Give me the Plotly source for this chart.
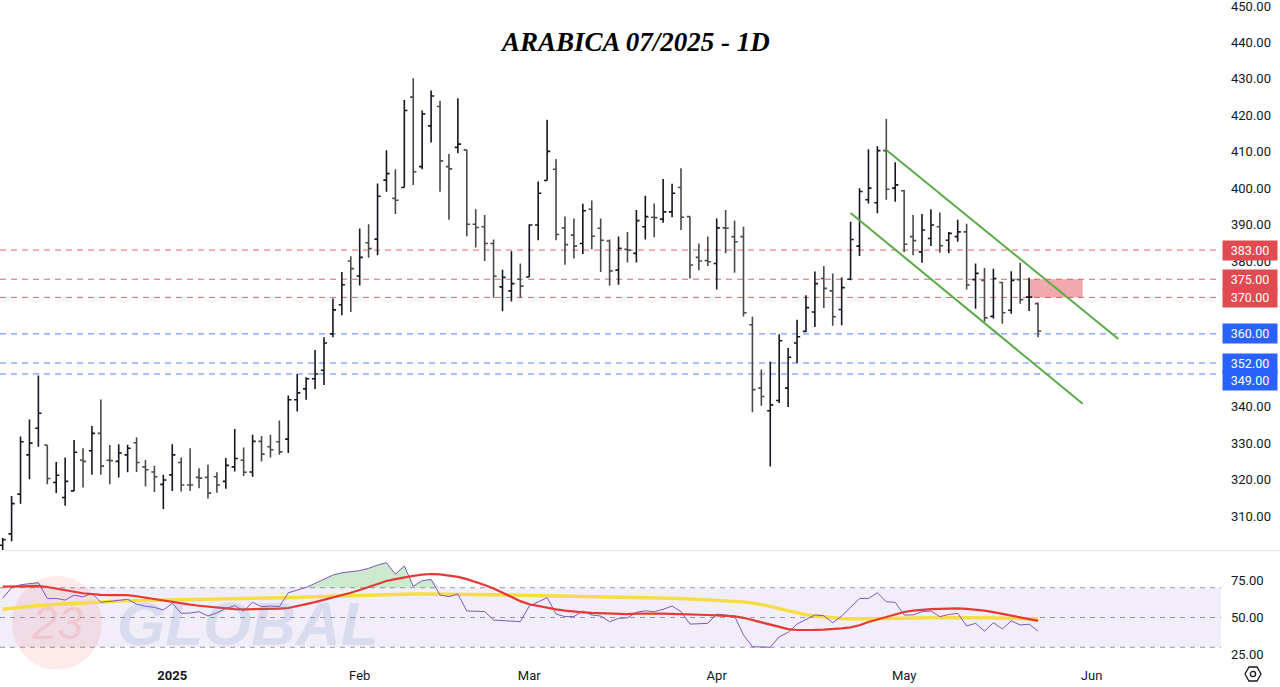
import plotly.graph_objects as go

# ---------------- data ----------------
bar_index = list(range(117))

opens = [302.0, 305.1, 316.0, 326.8, 334.1, 329.5, 319.2, 315.1, 316.9, 325.4,
         327.9, 332.7, 325.3, 325.0, 326.8, 330.1, 323.5, 322.1, 318.7, 321.3,
         324.7, 318.5, 320.6, 320.6, 320.8, 319.5, 323.5, 325.3, 322.1, 330.5,
         329.0, 330.4, 331.1, 341.9, 344.9, 347.7, 350.0, 360.0, 368.0, 380.0,
         375.9, 385.0, 386.0, 402.2, 397.2, 400.2, 425.0, 405.9, 417.1, 422.4,
         405.9, 411.2, 410.5, 390.1, 389.4, 384.8, 372.9, 371.8, 375.0, 375.6,
         389.9, 402.1, 405.2, 389.1, 387.1, 384.8, 394.2, 389.0, 385.5, 377.5,
         383.2, 382.1, 389.4, 392.0, 391.5, 393.5, 400.2, 392.2, 381.0, 380.1,
         379.3, 389.1, 386.7, 386.7, 362.5, 345.1, 338.9, 341.7, 345.1, 357.5,
         360.7, 366.0, 375.2, 371.8, 366.7, 375.0, 384.1, 396.8, 396.0, 410.3,
         400.0, 399.3, 386.7, 382.5, 386.2, 389.4, 385.7, 386.7, 388.0, 374.9,
         374.7, 364.8, 374.1, 366.5, 374.9, 370.1, 368.3]
highs = [304.0, 315.5, 331.8, 336.5, 348.6, 329.5, 324.8, 326.1, 330.9, 328.6,
         334.7, 342.0, 329.5, 329.7, 329.6, 331.6, 325.4, 323.8, 321.3, 329.7,
         326.1, 328.6, 323.1, 324.1, 322.0, 325.9, 333.9, 328.8, 332.3, 332.0,
         332.3, 336.2, 343.1, 349.0, 348.1, 355.6, 359.1, 369.7, 377.0, 381.3,
         388.9, 390.1, 401.3, 410.4, 405.2, 424.2, 430.2, 421.3, 426.8, 424.0,
         409.4, 424.7, 410.5, 394.2, 392.6, 385.9, 377.6, 382.7, 379.3, 390.1,
         401.8, 418.8, 408.0, 392.2, 391.7, 395.7, 396.6, 391.7, 385.9, 386.7,
         388.0, 394.0, 397.9, 395.8, 402.5, 401.2, 405.5, 392.2, 384.8, 386.7,
         391.7, 394.0, 391.1, 389.4, 364.7, 350.2, 352.4, 359.9, 356.1, 363.9,
         370.6, 377.1, 378.6, 376.6, 375.5, 390.8, 400.0, 410.7, 411.5, 419.0,
         407.1, 399.5, 392.6, 392.9, 394.2, 393.3, 388.0, 391.3, 390.2, 379.3,
         378.1, 377.9, 374.3, 377.2, 379.5, 375.4, 368.6]
lows = [300.0, 303.1, 313.4, 320.1, 329.0, 318.7, 316.3, 312.8, 316.9, 317.8,
        321.3, 321.3, 318.7, 320.6, 322.0, 322.1, 318.1, 316.6, 311.9, 316.9,
        316.7, 316.9, 317.6, 314.8, 316.4, 317.5, 322.2, 321.0, 320.8, 325.0,
        326.1, 326.8, 327.3, 338.7, 341.9, 344.9, 346.0, 359.1, 365.1, 366.0,
        373.3, 380.9, 381.6, 399.0, 392.9, 400.2, 400.9, 405.2, 412.5, 399.0,
        391.3, 409.6, 386.8, 383.7, 380.0, 369.9, 366.2, 368.9, 369.9, 375.6,
        385.7, 402.1, 385.7, 379.0, 380.7, 381.9, 383.2, 377.0, 373.2, 373.5,
        379.6, 379.6, 385.9, 386.5, 390.5, 392.0, 388.5, 375.2, 377.5, 378.6,
        372.2, 382.1, 376.8, 364.8, 338.5, 340.3, 323.6, 341.0, 339.9, 352.0,
        360.5, 361.9, 367.1, 362.2, 362.4, 374.7, 381.4, 395.8, 393.1, 396.8,
        396.3, 382.5, 381.6, 379.5, 384.1, 382.3, 382.1, 385.3, 372.2, 366.9,
        363.3, 364.2, 362.8, 365.5, 368.3, 366.3, 359.1]
closes = [303.5, 313.4, 330.4, 330.0, 338.2, 320.3, 321.2, 319.5, 327.5, 325.0,
          332.7, 323.7, 325.2, 327.3, 328.6, 324.7, 322.7, 320.8, 319.9, 326.8,
          318.5, 318.5, 320.4, 316.3, 318.5, 323.9, 325.8, 322.0, 330.5, 327.0,
          328.2, 327.6, 341.9, 343.8, 347.7, 349.0, 357.5, 366.6, 373.5, 377.9,
          381.0, 383.4, 397.8, 404.0, 396.7, 421.3, 404.5, 420.4, 425.3, 407.5,
          405.3, 412.1, 390.1, 389.2, 384.8, 375.8, 375.5, 373.8, 373.1, 389.9,
          398.6, 410.1, 387.3, 384.5, 384.1, 393.8, 386.8, 385.7, 377.3, 383.5,
          383.0, 391.1, 392.2, 391.9, 393.5, 398.6, 392.0, 378.9, 380.0, 379.8,
          389.1, 389.0, 385.3, 365.8, 344.7, 342.8, 340.5, 358.1, 353.6, 359.2,
          367.2, 373.8, 372.5, 364.7, 372.7, 385.9, 399.1, 400.0, 410.3, 399.7,
          400.9, 384.6, 385.6, 388.5, 389.9, 384.2, 387.6, 388.0, 373.4, 376.6,
          364.4, 375.2, 365.8, 374.7, 369.4, 370.1, 360.8]

rsi = [63, 70, 72, 72.5, 73.4, 62.8, 62.8, 61.7, 65, 63.9,
       66.2, 60.2, 60.6, 61.5, 62.2, 59, 57.5, 56.8, 55, 59.5,
       52.8, 53, 53.9, 51, 53.2, 56, 58, 54.4, 60.2, 57.3,
       57.7, 57.3, 66.6, 68.4, 70.2, 72.9, 75.5, 78.5, 80, 80.7,
       81.5, 83, 85.2, 86.8, 79, 84.6, 71, 74.7, 75.6, 65.1,
       64, 65.8, 54.4, 54.2, 54, 48.3, 48, 47.8, 47.2, 57.7,
       60.5, 63.3, 52.3, 50.6, 50.6, 54.4, 51.7, 51, 47.2, 49.4,
       49.8, 53.5, 54.5, 53.9, 55.5, 57.7, 53.9, 45.6, 45.8, 46.1,
       52.3, 51.5, 51, 38.3, 30.4, 30.2, 30, 37, 40, 45.6,
       48.5, 51.7, 51.2, 46.5, 51, 57, 62.8, 62.8, 66.6, 60.6,
       60.2, 51.7, 51.7, 53.9, 54.4, 50.6, 52, 52.8, 44.3, 46.1,
       40.9, 46.5, 42.3, 47.7, 45, 45.5, 40.9]

rsi_ma_yellow = [55.5, 56.2, 56.9, 57.5, 58.0, 58.4, 58.8, 59.2, 59.6, 60.0,
                 60.3, 60.6, 60.9, 61.1, 61.3, 61.4, 61.5, 61.6, 61.7, 61.8,
                 61.9, 62.0, 62.0, 62.1, 62.2, 62.2, 62.3, 62.4, 62.5, 62.7,
                 62.9, 63.1, 63.3, 63.5, 63.7, 63.9, 64.1, 64.3, 64.6, 64.8,
                 65.0, 65.1, 65.3, 65.4, 65.5, 65.7, 65.8, 65.8, 65.8, 65.8,
                 65.7, 65.7, 65.6, 65.5, 65.4, 65.3, 65.2, 65.1, 65.0, 64.9,
                 64.8, 64.7, 64.6, 64.5, 64.4, 64.2, 64.1, 64.0, 63.8, 63.7,
                 63.5, 63.3, 63.2, 63.1, 63.0, 62.9, 62.8, 62.5, 62.2, 61.9,
                 61.6, 61.3, 60.9, 60.5, 59.8, 58.9, 57.5, 56.0, 54.5, 53.0,
                 51.9, 51.0, 50.3, 49.8, 49.3, 49.1, 49.0, 49.0, 49.1, 49.3,
                 49.5, 49.6, 49.7, 49.8, 49.9, 49.9, 50.0, 50.0, 49.9, 49.9,
                 49.8, 49.7, 49.6, 49.5, 49.3, 49.2, 49.0]

rsi_ma_red = [70.7, 70.9, 71.0, 71.1, 71.1, 70.5, 69.3, 68.3, 67.3, 66.3,
              65.6, 65.2, 65.1, 65.1, 65.0, 64.3, 63.3, 62.2, 61.3, 60.4,
              59.5, 58.6, 57.9, 57.2, 56.6, 56.0, 55.6, 55.5, 55.5, 55.6,
              55.7, 55.9, 56.4, 57.5, 59.0, 60.3, 61.8, 63.4, 65.0, 66.6,
              68.5, 70.4, 72.5, 74.5, 75.8, 77.0, 78.0, 78.8, 79.2, 79.0,
              78.3, 77.3, 75.8, 74.0, 71.8, 69.5, 66.8, 63.8, 61.0, 58.9,
              57.6, 56.6, 55.5, 54.6, 53.9, 53.5, 53.1, 52.8, 52.5, 52.3,
              52.3, 52.6, 52.8, 52.7, 52.6, 52.5, 52.4, 52.2, 52.0, 51.7,
              51.4, 51.1, 50.7, 49.8, 48.3, 46.5, 44.8, 43.3, 42.2, 41.6,
              41.5, 41.7, 41.9, 42.2, 42.7, 43.4, 44.8, 47.0, 48.6, 50.5,
              52.3, 53.7, 54.6, 55.3, 55.6, 55.8, 56.0, 56.1, 55.8, 55.3,
              54.6, 53.6, 52.4, 51.2, 49.9, 48.8, 47.7]

month_ticks = [19, 40, 59, 80, 101, 122]
month_labels = ["<b>2025</b>", "Feb", "Mar", "Apr", "May", "Jun"]

price_ticks = [310, 320, 330, 340, 380, 390, 400, 410, 420, 430, 440, 450]
rsi_ticks = [25, 50, 75]

resistance_levels = [383, 375, 370]
support_levels = [360, 352, 349]
label_shift = {349: -7}

zone_x = [114.9, 121.0]
zone_y = [370, 375]

channel_x_upper = [99.0, 125.0]
channel_upper = [410.5, 358.6]
channel_x_lower = [95.0, 121.0]
channel_lower = [393.2, 340.8]

rsi_bands = [70, 50, 30]

# ---------------- figure ----------------
X_RANGE = [-0.30, 136.5]
INK = "#131722"
RED = "#e04a50"
BLUE = "#2962ff"

fig = go.Figure()

fig.add_trace(go.Ohlc(
    x=bar_index, open=opens, high=highs, low=lows, close=closes,
    increasing=dict(line=dict(color="#131722", width=1.6)),
    decreasing=dict(line=dict(color="#4a4a4a", width=1.6)),
    tickwidth=0.35, xaxis="x", yaxis="y", hoverinfo="skip", showlegend=False))

# channel lines
fig.add_trace(go.Scatter(x=channel_x_upper, y=channel_upper, mode="lines",
                         line=dict(color="#5aab47", width=2), xaxis="x", yaxis="y",
                         showlegend=False, hoverinfo="skip"))
fig.add_trace(go.Scatter(x=channel_x_lower, y=channel_lower, mode="lines",
                         line=dict(color="#5aab47", width=2), xaxis="x", yaxis="y",
                         showlegend=False, hoverinfo="skip"))

# RSI overbought fill
fig.add_trace(go.Scatter(x=bar_index, y=[rsi_bands[0]] * len(bar_index), mode="lines",
                         line=dict(width=0, color="rgba(0,0,0,0)"), xaxis="x2", yaxis="y2",
                         showlegend=False, hoverinfo="skip"))
fig.add_trace(go.Scatter(x=bar_index, y=[max(v, rsi_bands[0]) for v in rsi], mode="lines",
                         line=dict(width=0, color="rgba(0,0,0,0)"), fill="tonexty",
                         fillcolor="rgba(76,175,80,0.28)", xaxis="x2", yaxis="y2",
                         showlegend=False, hoverinfo="skip"))

fig.add_trace(go.Scatter(x=bar_index, y=rsi_ma_yellow, mode="lines",
                         line=dict(color="#f5dd47", width=3.5), xaxis="x2", yaxis="y2",
                         showlegend=False, hoverinfo="skip"))
fig.add_trace(go.Scatter(x=bar_index, y=rsi, mode="lines",
                         line=dict(color="#7e57c2", width=1), xaxis="x2", yaxis="y2",
                         showlegend=False, hoverinfo="skip"))
fig.add_trace(go.Scatter(x=bar_index, y=rsi_ma_red, mode="lines",
                         line=dict(color="#e53935", width=2.2), xaxis="x2", yaxis="y2",
                         showlegend=False, hoverinfo="skip"))

shapes = []
annotations = []

# horizontal levels
for lv in resistance_levels:
    shapes.append(dict(type="line", xref="paper", x0=0, x1=1, yref="y", y0=lv, y1=lv,
                       line=dict(color="rgba(224,74,80,0.85)", width=1, dash="6px,5px"),
                       layer="below"))
for lv in support_levels:
    shapes.append(dict(type="line", xref="paper", x0=0, x1=1, yref="y", y0=lv, y1=lv,
                       line=dict(color="rgba(41,98,255,0.8)", width=1, dash="6px,5px"),
                       layer="below"))

# red zone
shapes.append(dict(type="rect", xref="x", yref="y", x0=zone_x[0], x1=zone_x[1],
                   y0=zone_y[0], y1=zone_y[1], fillcolor="rgba(226,76,84,0.48)",
                   line=dict(width=0), layer="below"))

# axis level labels
for lv in resistance_levels + support_levels:
    col = RED if lv in resistance_levels else BLUE
    annotations.append(dict(xref="paper", x=1, xanchor="left", xshift=1,
                            yref="y", y=lv, yanchor="middle",
                            yshift=label_shift.get(lv, 0),
                            text=f"{lv:.2f}", showarrow=False, bgcolor=col,
                            width=52, height=17, align="center", borderpad=1,
                            font=dict(color="white", size=12.5, family="Roboto")))

# RSI band background and dashed lines
shapes.append(dict(type="rect", xref="paper", x0=0, x1=1, yref="y2",
                   y0=rsi_bands[2], y1=rsi_bands[0], fillcolor="rgba(126,87,194,0.10)",
                   line=dict(width=0), layer="below"))
for b in rsi_bands:
    shapes.append(dict(type="line", xref="paper", x0=0, x1=1, yref="y2", y0=b, y1=b,
                       line=dict(color="#9598a1", width=1, dash="5px,5px"), layer="below"))

# pane separator
shapes.append(dict(type="line", xref="paper", x0=0, x1=1.05, yref="paper",
                   y0=0.1631, y1=0.1631, line=dict(color="#e0e3eb", width=1)))

# watermark
shapes.append(dict(type="circle", xref="paper", yref="paper", x0=0.0098, x1=0.0835,
                   y0=-0.018, y1=0.1246, fillcolor="rgba(240,90,90,0.13)",
                   line=dict(width=0), layer="below"))
annotations.append(dict(xref="paper", yref="paper", x=0.047, y=0.053, showarrow=False,
                        xanchor="center", yanchor="middle",
                        text="<i>23</i>", font=dict(size=46, color="rgba(220,60,60,0.13)",
                                                    family="Liberation Sans")))
annotations.append(dict(xref="paper", yref="paper", x=0.203, y=0.053, showarrow=False,
                        xanchor="center", yanchor="middle",
                        text="<b><i>GLOBAL</i></b>",
                        font=dict(size=62, color="rgba(95,125,190,0.17)",
                                  family="Liberation Sans")))

# settings icon
shapes.append(dict(type="path", xref="paper", yref="paper", xsizemode="pixel",
                   ysizemode="pixel", xanchor=1.0262, yanchor=-0.0243,
                   path="M -8 0 L -4 -7 L 4 -7 L 8 0 L 4 7 L -4 7 Z",
                   line=dict(color=INK, width=1.3)))
shapes.append(dict(type="circle", xref="paper", yref="paper", xsizemode="pixel",
                   ysizemode="pixel", xanchor=1.0262, yanchor=-0.0243,
                   x0=-2.6, x1=2.6, y0=-2.6, y1=2.6, line=dict(color=INK, width=1.3)))

# title
annotations.append(dict(xref="paper", yref="paper", x=0.5197, y=0.936, showarrow=False,
                        xanchor="center", yanchor="middle",
                        text="<b><i>ARABICA 07/2025 - 1D</i></b>",
                        font=dict(size=27, color="#000000", family="Liberation Serif")))

fig.update_layout(
    width=1280, height=687,
    margin=dict(l=0, r=59, t=0, b=29, autoexpand=False),
    paper_bgcolor="white", plot_bgcolor="white",
    showlegend=False,
    xaxis=dict(domain=[0, 1], anchor="y", range=X_RANGE, showticklabels=False,
               showgrid=False, zeroline=False, showline=False, automargin=False,
               rangeslider=dict(visible=False), fixedrange=True),
    yaxis=dict(domain=[0.1641, 1], anchor="x", side="right", range=[300.67, 451.65],
               tickvals=price_ticks, ticktext=[f"{v:.2f}" for v in price_ticks],
               showgrid=False, zeroline=False, showline=False, ticks="",
               automargin=False, ticklabelstandoff=9, ticklabeloverflow="allow",
               tickfont=dict(size=13, color=INK, family="Roboto")),
    xaxis2=dict(domain=[0, 1], anchor="y2", range=X_RANGE,
                tickvals=month_ticks, ticktext=month_labels, automargin=False,
                showgrid=False, zeroline=False, showline=False, ticks="",
                ticklabelstandoff=8, ticklabeloverflow="allow",
                tickfont=dict(size=13, color=INK, family="Roboto")),
    yaxis2=dict(domain=[0, 0.1611], anchor="x2", side="right", range=[22.8, 94.0],
                tickvals=rsi_ticks, ticktext=[f"{v:.2f}" for v in rsi_ticks],
                showgrid=False, zeroline=False, showline=False, ticks="",
                automargin=False, ticklabelstandoff=9, ticklabeloverflow="allow",
                tickfont=dict(size=13, color=INK, family="Roboto")),
    shapes=shapes, annotations=annotations,
)

fig.write_html("out.html",
               config={"displayModeBar": False},
               post_script="document.body.style.margin='0px';"
                           "document.body.style.padding='0px';"
                           "document.body.style.overflow='hidden';")
